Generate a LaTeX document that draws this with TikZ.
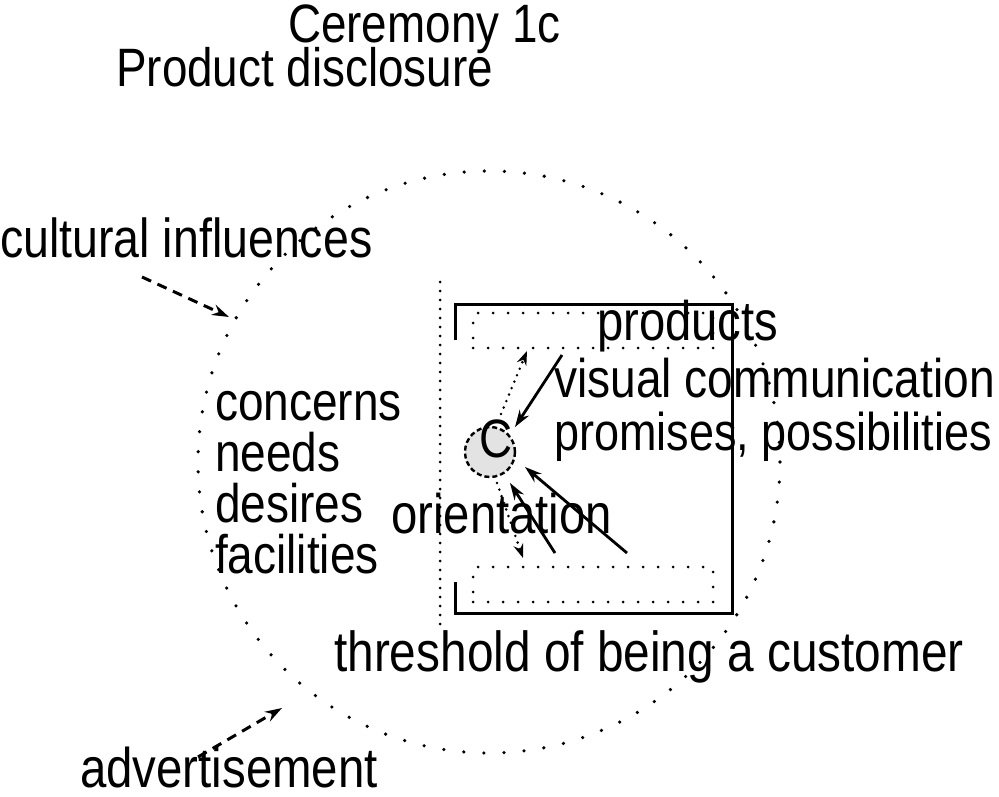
\documentclass[tikz,border=0pt]{standalone}
\usepackage{fontspec}
\usepackage{graphicx}
\setmainfont{Liberation Sans}
\usetikzlibrary{arrows.meta}
\newcommand{\Tx}[1]{\scalebox{1}[1.18]{#1}}
\begin{document}
\begin{tikzpicture}[x=1pt,y=-1pt,
  txt/.style={anchor=base west, inner sep=0pt, font=\fontsize{#1pt}{50pt}\selectfont},
  txt/.default=46,
  cdots/.style={line width=3.6pt, line cap=round, dash pattern=on 0pt off 20.1pt},
  vdots/.style={line width=3pt, line cap=round, dash pattern=on 0pt off 9pt},
  rdots/.style={draw, line width=3pt, line cap=round, dash pattern=on 0pt off 15pt, inner sep=0pt},
  frame/.style={line width=3pt},
  arr/.style={line width=2.8pt, -{Stealth[length=17pt,width=11pt]}},
  dotarr/.style={line width=2.8pt, line cap=round, dash pattern=on 0pt off 7pt, -{Stealth[length=14pt,width=10pt]}},
  dasharr/.style={line width=3pt, dash pattern=on 10pt off 7pt, -{Stealth[length=17pt,width=11pt]}},
  eye/.style={circle, draw, line width=2.4pt, dash pattern=on 5pt off 3pt, fill=gray!22, minimum size=50pt, inner sep=0pt}
]
\useasboundingbox (0,0) rectangle (999,797);

% big dotted circle
\draw[cdots] (489,462) circle[radius=291];

% vertical dotted line
\coordinate (vtop) at (440,282);
\coordinate (vbot) at (440,628);
\draw[vdots] (vtop) -- (vbot);

% solid frame
\draw[frame] (455,340) |- (732,304) |- (455,613) -- (455,582);

% dotted slots
\node[rdots, minimum width=240pt, minimum height=35pt] (topslot) at (593,330.5) {};
\node[rdots, minimum width=240pt, minimum height=35pt] (botslot) at (593,584.5) {};

% eye circle and C
\node[eye] (eye) at (490,452) {};
\node[txt=45.8] (cee) at (479,457) {\Tx{C}};

% texts
\node[txt=45.8] (t1) at (288,43) {\Tx{Ceremony 1c}};
\node[txt=45.8] (t2) at (116,87) {\Tx{Product disclosure}};
\node[txt=46.5] (cult) at (0,257) {\Tx{cultural influences}};
\node[txt=46] (conc) at (215,420) {\Tx{concerns}};
\node[txt=46] (need) at (215,471) {\Tx{needs}};
\node[txt=46] (desi) at (215,522) {\Tx{desires}};
\node[txt=46] (faci) at (215,573) {\Tx{facilities}};
\node[txt=47.2] (prod) at (597,340) {\Tx{products}};
\node[txt=46.1] (vis) at (554,397) {\Tx{visual communication}};
\node[txt=45] (prom) at (554,450) {\Tx{promises, possibilities}};
\node[txt=47.3] (orie) at (391,533) {\Tx{orientation}};
\node[txt=47.8] (thre) at (334,671) {\Tx{threshold of being a customer}};
\node[txt=47.4] (adv) at (80,787) {\Tx{advertisement}};

% arrow endpoints
\coordinate (d1s) at (501,414);
\coordinate (d1e) at (527,351);
\coordinate (a1s) at (562,355);
\coordinate (a1e) at (515,427);
\coordinate (a2s) at (627,553);
\coordinate (a2e) at (525,467);
\coordinate (a3s) at (555,553);
\coordinate (a3e) at (510,483);
\coordinate (d2s) at (497,483);
\coordinate (d2e) at (523,558);
\coordinate (cs) at (142,277);
\coordinate (ce) at (229,317);
\coordinate (as) at (198,757);
\coordinate (ae) at (282,708);

\draw[dotarr] (d1s) -- (d1e);
\draw[arr] (a1s) -- (a1e);
\draw[arr] (a2s) -- (a2e);
\draw[arr] (a3s) -- (a3e);
\draw[dotarr] (d2s) -- (d2e);
\draw[dasharr] (cs) -- (ce);
\draw[dasharr] (as) -- (ae);
\end{tikzpicture}
\end{document}
